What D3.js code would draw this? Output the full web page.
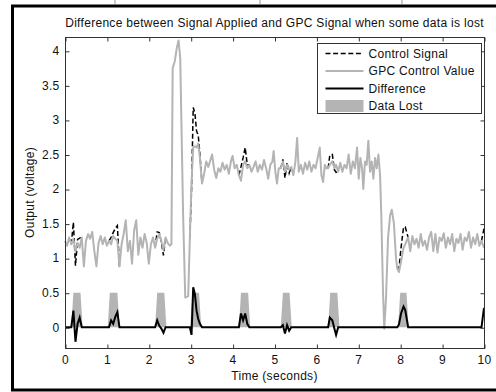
<!DOCTYPE html>
<html lang="en">
<head>
<meta charset="UTF-8">
<title>Data lost</title>
<script src="https://d3js.org/d3.v7.min.js"></script>
<style>
  body { margin: 0; background: #fff; }
  text { font-family: "Liberation Sans", Arial, sans-serif; font-size: 12px; letter-spacing: 0.3px; fill: #111; }
</style>
</head>
<body>
<script>
const width = 496, height = 392;

// GPC control value (gray)
const gpcT = [0,0.05,0.1,0.15,0.2,0.25,0.3,0.35,0.4,0.45,0.5,0.55,0.6,0.65,0.7,0.75,0.8,0.85,0.9,0.95,
  1,1.05,1.1,1.15,1.2,1.25,1.3,1.35,1.4,1.45,1.5,1.55,1.6,1.65,1.7,1.75,1.8,1.85,1.9,1.95,
  2,2.05,2.1,2.15,2.2,2.25,2.3,2.35,2.4,2.45,2.5,2.54,2.57,2.62,2.67,2.71,2.75,2.82,2.87,2.94,
  2.98,3.02,3.06,3.1,3.14,3.18,3.22,3.27,3.32,3.37,3.42,3.47,3.51,3.56,3.61,3.66,3.71,3.76,3.81,3.86,
  3.91,3.96,4,4.05,4.1,4.15,4.2,4.25,4.3,4.35,4.4,4.45,4.5,4.55,4.6,4.65,4.7,4.75,4.8,4.85,
  4.9,4.95,4.98,5.02,5.06,5.1,5.15,5.2,5.25,5.3,5.35,5.4,5.45,5.5,5.54,5.58,5.63,5.68,5.73,5.78,
  5.83,5.88,5.93,5.98,6.03,6.08,6.12,6.16,6.2,6.24,6.28,6.32,6.38,6.43,6.47,6.52,6.57,6.62,6.67,6.72,
  6.77,6.82,6.87,6.92,6.97,7.01,7.05,7.09,7.12,7.16,7.2,7.24,7.28,7.32,7.36,7.4,7.44,7.48,7.52,7.55,
  7.59,7.62,7.66,7.71,7.76,7.8,7.85,7.9,7.93,7.97,8.02,8.08,8.12,8.19,8.24,8.29,8.34,8.39,8.44,8.49,
  8.54,8.59,8.64,8.69,8.74,8.79,8.84,8.89,8.94,8.99,9.04,9.09,9.14,9.19,9.24,9.29,9.34,9.39,9.44,9.49,
  9.54,9.59,9.64,9.69,9.74,9.79,9.84,9.89,9.94,10];
const gpcV = [1.25,1.18,1.3,1.2,1.28,1.1,1.22,1.15,1.3,0.88,1.25,1.35,1.28,1.38,1.1,0.88,1.22,1.32,1.2,1.3,
  1.18,1.25,1.2,1.32,1.28,1.25,0.88,1.2,1.35,1.55,1.1,1.25,0.92,1.4,1.55,1.05,1.3,1.15,1.35,1.22,
  0.92,1.2,1.3,1.15,1.28,1.35,1.25,1.12,1.3,1.22,1.18,1.2,3.75,3.85,4.05,4.15,3.9,1.6,0.43,0.45,
  1.3,2.1,2.6,2.62,2.6,2.66,2.45,2.08,2.22,2.4,2.32,2.42,2.5,2.28,2.16,2.3,2.25,2.38,2.28,2.35,
  2.22,2.4,2.48,2.3,2.35,2.2,2.12,2.35,2.4,2.3,2.35,2.25,2.32,2.4,2.25,2.35,2.28,2.42,2.3,2.15,
  2.35,2.4,2.55,2.25,2.08,2.3,2.3,2.4,2.25,2.35,2.28,2.32,2.2,2.4,2.74,2.25,2.35,2.22,2.38,2.28,
  2.4,2.25,2.35,2.3,2.45,2.6,2.2,2.1,2.35,2.3,2.3,2.35,2.4,2.3,2.35,2.25,2.38,2.25,2.35,2.3,
  2.5,2.22,2.4,2.3,2.6,2.15,2.45,2.3,2.0,2.4,2.35,2.7,2.25,2.4,2.15,2.45,2.3,2.5,2.2,1.6,
  0.5,-0.02,0.4,1.3,1.62,1.7,1.5,1.0,0.85,0.8,0.95,1.15,1.2,1.3,1.1,1.32,1.2,1.28,1.15,1.35,
  1.18,1.25,1.12,1.3,1.38,1.1,1.35,1.08,1.3,1.25,1.36,1.15,1.3,1.2,1.35,1.1,1.28,1.22,1.35,1.12,
  1.3,1.25,1.38,1.15,1.3,1.2,1.35,1.18,1.25,1.15];

// Control signal (dashed), only where it leaves the GPC value; null breaks the line
const ctrlT = [0.15,0.2,0.25,0.3,0.35,0.4,null,1.05,1.1,1.15,1.2,1.25,1.3,null,2.15,2.2,2.25,2.3,2.35,2.4,null,
  2.98,3.02,3.06,3.1,3.14,3.18,3.22,3.27,null,4.15,4.2,4.25,4.3,4.35,4.4,null,5.15,5.2,5.25,5.3,5.35,5.4,null,
  6.28,6.32,6.38,6.43,6.47,6.52,null,7.93,7.97,8.02,8.08,8.12,8.19,null,9.94,10];
const ctrlV = [1.2,1.52,0.89,1.27,1.29,1.3,null,1.25,1.3,1.37,1.43,1.47,0.88,null,1.15,1.38,1.37,1.23,1.04,1.3,null,
  1.3,1.99,3.18,3.1,2.84,2.78,2.5,2.08,null,2.2,2.32,2.45,2.6,2.35,2.35,null,2.3,2.43,2.16,2.38,2.23,2.32,null,
  2.3,2.49,2.5,2.28,2.24,2.25,null,0.85,0.84,1.15,1.45,1.45,1.3,null,1.25,1.43];

// Difference
const diffT = [0,0.15,0.2,0.25,0.3,0.35,0.4,1.05,1.1,1.15,1.2,1.25,1.3,2.15,2.2,2.25,2.3,2.35,2.4,
  2.98,3.02,3.06,3.1,3.14,3.18,3.22,3.27,4.15,4.2,4.25,4.3,4.35,4.4,5.15,5.2,5.25,5.3,5.35,5.4,
  6.28,6.32,6.38,6.43,6.47,6.52,7.93,7.97,8.02,8.08,8.12,8.19,9.94,10];
const diffV = [0,0,0.24,-0.21,0.05,0.14,0,0,0.1,0.05,0.15,0.22,0,0,0.1,0.02,-0.02,-0.08,0,
  0,-0.11,0.58,0.48,0.24,0.12,0.05,0,0,0.2,0.1,0.2,0.05,0,0,0.03,-0.09,0.03,-0.05,0,
  0,0.14,0.1,-0.02,-0.11,0,0,0.04,0.2,0.3,0.25,0,0,0.28];

// Data lost windows (flat top), level 0.5
const lostStart = [0.2, 1.07, 2.2, 3.04, 4.2, 5.2, 6.33, 8.0];
const lostEnd   = [0.37, 1.25, 2.37, 3.2, 4.37, 5.36, 6.5, 8.15];
const lostLevel = 0.5;

const xTicks = [0,1,2,3,4,5,6,7,8,9,10];
const yTicks = [0,0.5,1,1.5,2,2.5,3,3.5,4];

const legendNames = ["Control Signal", "GPC Control Value", "Difference", "Data Lost"];

const gray = "#b4b4b4";
const dash = "5,2.6";
const pLeft = 65, pRight = 484, pTop = 37, pBottom = 348;

const svg = d3.select("body").append("svg")
  .attr("width", width).attr("height", height);

// figure frame
svg.append("rect").attr("x", 12.5).attr("y", 6).attr("width", 492).attr("height", 384)
  .attr("fill", "none").attr("stroke", "#000").attr("stroke-width", 3);
[115, 260, 402].forEach(px => svg.append("line")
  .attr("x1", px).attr("x2", px).attr("y1", 0).attr("y2", 4)
  .attr("stroke", "#999"));

const x = d3.scaleLinear().domain([0, 10]).range([pLeft, pRight]);
const y = d3.scaleLinear().domain([-0.3, 4.2]).range([pBottom, pTop]);

const g = svg.append("g");

// data lost shapes
const lostArea = d3.area().x(d => x(d[0])).y0(y(0)).y1(d => y(d[1]));
lostStart.forEach((s, i) => {
  const pts = [[s - 0.05, 0], [s, lostLevel], [lostEnd[i], lostLevel], [lostEnd[i] + 0.05, 0]];
  g.append("path").attr("d", lostArea(pts)).attr("fill", gray);
});

// control signal
const ctrlLine = d3.line().defined(d => d[0] !== null).x(d => x(d[0])).y(d => y(d[1]));
g.append("path").attr("d", ctrlLine(ctrlT.map((t, i) => [t, ctrlV[i]])))
  .attr("fill", "none").attr("stroke", "#000").attr("stroke-width", 1.5)
  .attr("stroke-dasharray", dash);

// GPC value
const line = d3.line().x(d => x(d[0])).y(d => y(d[1]));
g.append("path").attr("d", line(gpcT.map((t, i) => [t, gpcV[i]])))
  .attr("fill", "none").attr("stroke", gray).attr("stroke-width", 2)
  .attr("stroke-linejoin", "round");

// difference
g.append("path").attr("d", line(diffT.map((t, i) => [t, diffV[i]])))
  .attr("fill", "none").attr("stroke", "#000").attr("stroke-width", 2);

// axes box with inward ticks
const axisColor = "#333";
svg.append("rect").attr("x", pLeft + 0.5).attr("y", pTop + 0.5)
  .attr("width", pRight - pLeft).attr("height", pBottom - pTop)
  .attr("fill", "none").attr("stroke", axisColor);

const styleText = a => a.selectAll("text").attr("font-size", null).attr("font-family", null).attr("fill", "#111");

svg.append("g").attr("transform", `translate(0,${pBottom + 0.5})`)
  .call(d3.axisBottom(x).tickValues(xTicks).tickSize(-4).tickPadding(7).tickFormat(d3.format("d")))
  .call(a => a.select(".domain").remove())
  .call(a => a.selectAll("line").attr("stroke", axisColor).attr("transform", "translate(0.5,0)"))
  .call(styleText);
svg.append("g").attr("transform", `translate(0,${pTop + 0.5})`)
  .call(d3.axisTop(x).tickValues(xTicks).tickSize(-4).tickFormat(""))
  .call(a => a.select(".domain").remove())
  .call(a => a.selectAll("line").attr("stroke", axisColor).attr("transform", "translate(0.5,0)"));
svg.append("g").attr("transform", `translate(${pLeft + 0.5},0)`)
  .call(d3.axisLeft(y).tickValues(yTicks).tickSize(-4).tickPadding(6).tickFormat(d => String(d)))
  .call(a => a.select(".domain").remove())
  .call(a => a.selectAll("line").attr("stroke", axisColor).attr("transform", "translate(0,0.5)"))
  .call(styleText);
svg.append("g").attr("transform", `translate(${pRight + 0.5},0)`)
  .call(d3.axisRight(y).tickValues(yTicks).tickSize(-4).tickFormat(""))
  .call(a => a.select(".domain").remove())
  .call(a => a.selectAll("line").attr("stroke", axisColor).attr("transform", "translate(0,0.5)"));

// title and labels
svg.append("text").attr("x", (pLeft + pRight) / 2).attr("y", 27).attr("text-anchor", "middle")
  .text("Difference between Signal Applied and GPC Signal when some data is lost");
svg.append("text").attr("x", (pLeft + pRight) / 2).attr("y", 380).attr("text-anchor", "middle")
  .text("Time (seconds)");
svg.append("text").attr("transform", `translate(34,${(pTop + pBottom) / 2}) rotate(-90)`)
  .attr("text-anchor", "middle").text("Output (voltage)");

// legend
const lg = svg.append("g").attr("transform", "translate(317.5,43.5)");
lg.append("rect").attr("width", 164).attr("height", 70).attr("fill", "#fff").attr("stroke", axisColor);
legendNames.forEach((name, i) => {
  const yy = 10 + i * 17.5;
  if (i === 0) lg.append("line").attr("x1", 8).attr("x2", 46).attr("y1", yy).attr("y2", yy)
    .attr("stroke", "#000").attr("stroke-width", 1.5).attr("stroke-dasharray", dash);
  if (i === 1) lg.append("line").attr("x1", 8).attr("x2", 46).attr("y1", yy).attr("y2", yy)
    .attr("stroke", gray).attr("stroke-width", 2);
  if (i === 2) lg.append("line").attr("x1", 8).attr("x2", 46).attr("y1", yy).attr("y2", yy)
    .attr("stroke", "#000").attr("stroke-width", 2);
  if (i === 3) lg.append("rect").attr("x", 8).attr("y", yy - 6).attr("width", 38).attr("height", 12)
    .attr("fill", gray);
  lg.append("text").attr("x", 51).attr("y", yy + 4).text(name);
});
</script>
</body>
</html>
